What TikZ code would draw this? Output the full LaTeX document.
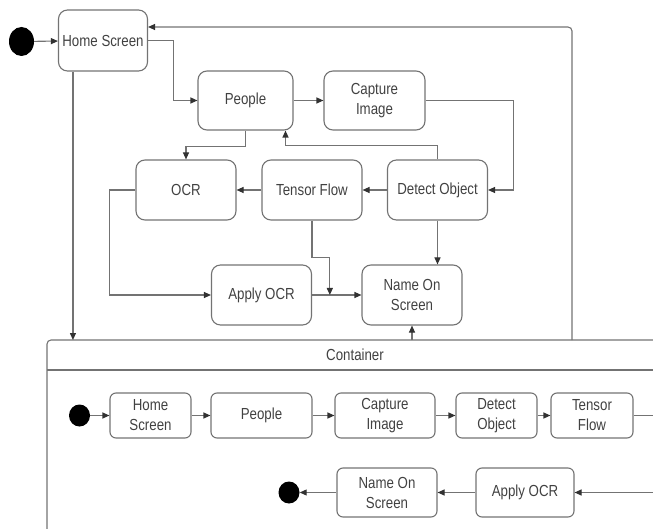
\documentclass[tikz,border=0pt]{standalone}
\usepackage{fontspec}
\setmainfont{Liberation Sans}[FakeStretch=0.83]
\usetikzlibrary{arrows.meta,shapes.geometric,calc}
\definecolor{edge}{RGB}{115,115,115}
\definecolor{tip}{RGB}{50,50,50}
\definecolor{ink}{RGB}{65,65,65}

\begin{document}
\begin{tikzpicture}[x=1pt,y=-1pt,
    state/.style={draw=edge,line width=1.1pt,rounded corners=9pt,align=center,inner sep=0pt,
      text=ink,minimum width=100pt,minimum height=60pt,font=\fontsize{16}{20}\selectfont},
    small/.style={state,rounded corners=6pt,minimum width=81pt,minimum height=45pt},
    dot/.style={ellipse,fill=black,inner sep=0pt,minimum width=21pt,minimum height=22pt},
    flow/.style={draw=edge,line width=1.1pt,-{Triangle[length=7pt,width=6pt,color=tip]}},
    wire/.style={draw=edge,line width=1.1pt}]
  \useasboundingbox (0,0) rectangle (653,529);
  \clip (0,0) rectangle (653,529);

  % upper diagram
  \node[dot,minimum width=25pt,minimum height=29pt] (start) at (21.5,41.5) {};
  \node[state,minimum width=89pt,minimum height=61pt] (home) at (103,40.5) {Home Screen};
  \node[state,minimum width=95pt,minimum height=59pt] (people) at (245.5,100.5) {People};
  \node[state,minimum width=101pt,minimum height=59pt] (capture) at (374.5,100.5) {Capture\\Image};
  \node[state] (detect) at (437.5,190) {Detect Object};
  \node[state] (tensor) at (312,190) {Tensor Flow};
  \node[state] (ocr) at (186,190) {OCR};
  \node[state] (apply) at (261.5,295) {Apply OCR};
  \node[state] (name) at (412,295) {Name On\\Screen};

  % container
  \draw[wire,rounded corners=4pt] (47,540) -- (47,340) -- (665,340);
  \draw[wire] (47,370) -- (665,370);
  \node[text=ink,font=\fontsize{16}{20}\selectfont] (cont) at (355,355) {Container};
  \coordinate (ctop) at (47,340);
  \coordinate (back) at (572,340);
  \coordinate (hdrop) at ($(home.south west)+(15,0)$);
  \coordinate (join) at ($(apply.east)!0.36!(name.west)$);

  \draw[flow] (start) -- (home);
  \draw[flow] (home.east) -- ++(25,0) |- (people.west);
  \draw[flow] (people) -- (capture);
  \draw[flow] (capture.east) -- ++(88,0) |- (detect.east);
  \draw[flow] (detect.north) -- ++(0,-14) -| ($(people.south)+(40,0)$);
  \draw[flow] (detect) -- (tensor);
  \draw[flow] (tensor) -- (ocr);
  \draw[flow] (people.south) -- ++(0,16) -| (ocr.north);
  \draw[flow] (ocr.west) -- ++(-26,0) |- (apply.west);
  \draw[flow] (apply) -- (name);
  \draw[flow] (tensor.south) -- ++(0,37) -| (join);
  \draw[flow] (detect.south) -- (detect.south |- name.north);
  \draw[flow] (hdrop) -- (hdrop |- ctop);
  \draw[flow] (name.south |- ctop) -- (name.south);
  \draw[flow,rounded corners=4pt] (back) |- ($(home.east)+(0,-13.5)$);

  % lower diagram
  \node[dot] (start2) at (79.5,415.5) {};
  \node[small] (home2) at (150.5,415.5) {Home\\Screen};
  \node[small,minimum width=101pt] (people2) at (261.5,415.5) {People};
  \node[small,minimum width=100pt] (capture2) at (385,415.5) {Capture\\Image};
  \node[small] (detect2) at (496.5,415.5) {Detect\\Object};
  \node[small,minimum width=82pt] (tensor2) at (592,415.5) {Tensor\\Flow};
  \node[small,minimum width=98pt,minimum height=49pt] (apply2) at (525,492.5) {Apply OCR};
  \node[small,minimum width=100pt,minimum height=49pt] (name2) at (387,492.5) {Name On\\Screen};
  \node[dot] (end2) at (289,492.5) {};
  \coordinate (out2) at (665,415.5);
  \coordinate (in2) at (665,492.5);

  \foreach \a/\b in {start2/home2,home2/people2,people2/capture2,capture2/detect2,detect2/tensor2}
    \draw[flow] (\a) -- (\b);
  \draw[wire] (tensor2) -- (out2);
  \draw[flow] (in2) -- (apply2);
  \draw[flow] (apply2) -- (name2);
  \draw[flow] (name2) -- (end2);
\end{tikzpicture}
\end{document}
